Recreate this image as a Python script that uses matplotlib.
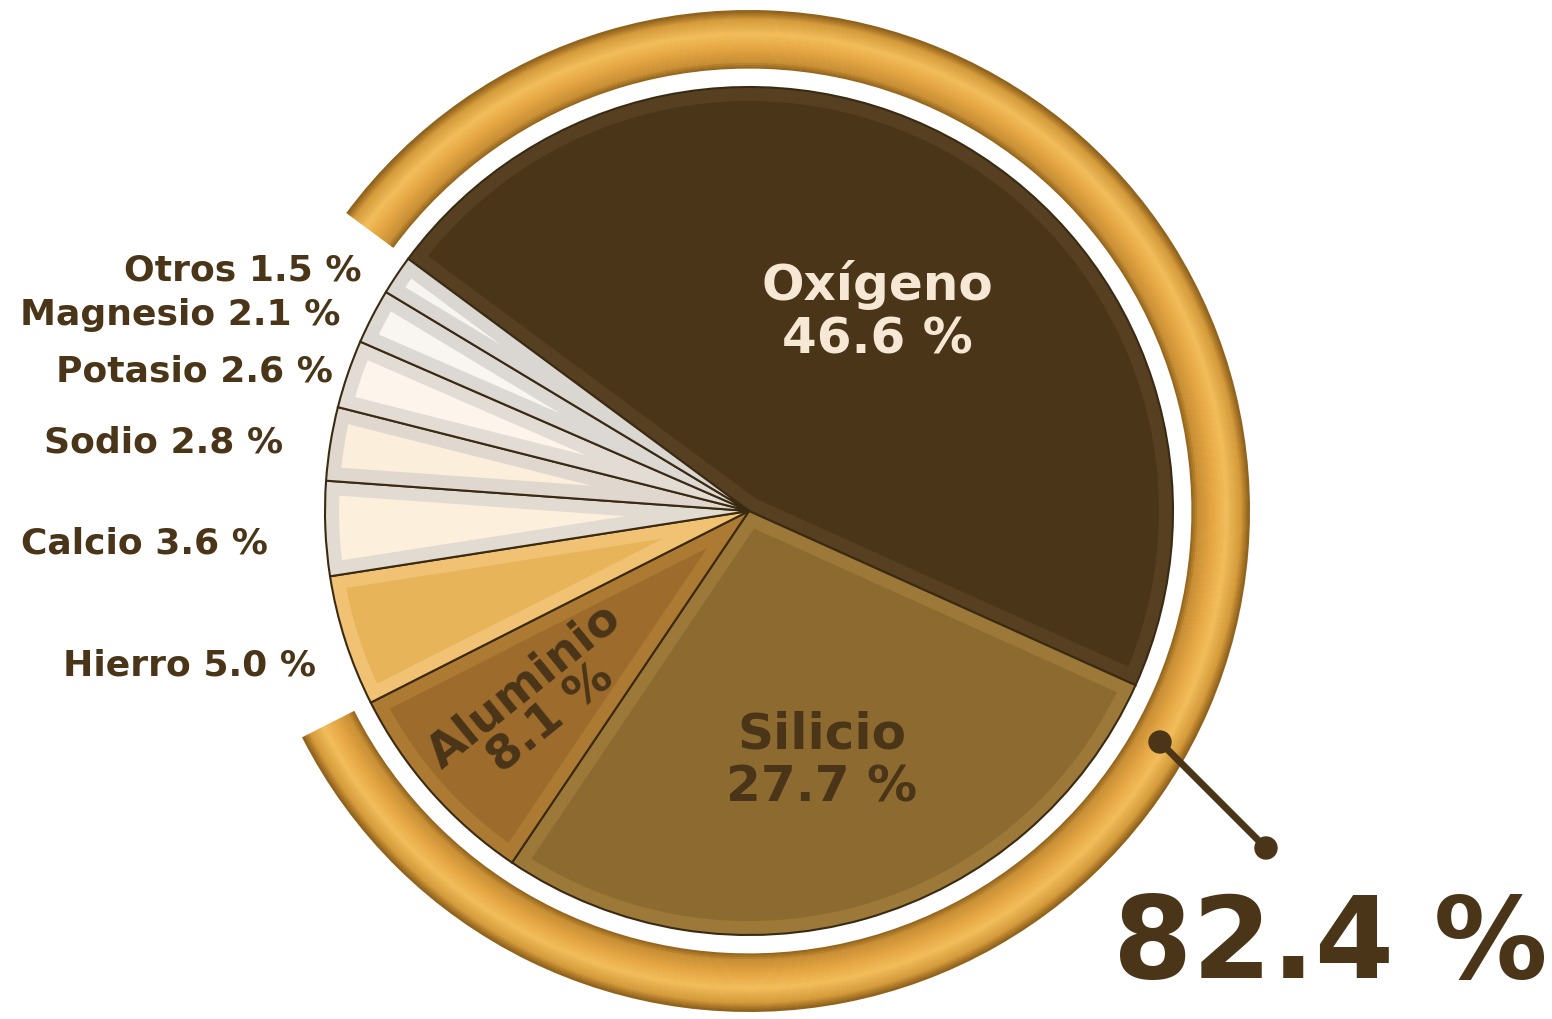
import numpy as np
import matplotlib.pyplot as plt
from matplotlib.patches import Wedge, Polygon, Circle
from matplotlib.colors import to_rgb

# elementos de la corteza terrestre (% en masa)
elements = ['Oxígeno', 'Silicio', 'Aluminio', 'Hierro', 'Calcio',
            'Sodio', 'Potasio', 'Magnesio', 'Otros']
values = [46.6, 27.7, 8.1, 5.0, 3.6, 2.8, 2.6, 2.1, 1.5]
highlight_count = 3  # Oxígeno + Silicio + Aluminio
highlight_label = '82.4 %'

face_colors = ['#4b3519', '#8c6a30', '#9d6b2b', '#e8b45a', '#fcefdc',
               '#fbeedb', '#fdf4ec', '#f9f6f2', '#f7f5f2']
bevel_colors = ['#574022', '#9c7839', '#ad7a34', '#f1c273', '#e2dbd2',
                '#e0d8ce', '#e2dcd5', '#dcd8d4', '#dad7d3']
dark = '#4a3518'

W, H = 1552, 1019
fig = plt.figure(figsize=(W / 100, H / 100), dpi=100)
ax = fig.add_axes([0, 0, 1, 1])

cx, cy, R = 749, 508, 424
start = 143.5

wedges, _ = ax.pie(values, colors=bevel_colors, startangle=start, counterclock=False,
                   radius=R, center=(cx, cy),
                   wedgeprops=dict(edgecolor='#3a2a12', linewidth=1.5))

# inset faces for the bevelled look
d = 14
for w, col in zip(wedges, face_colors):
    a1, a2 = w.theta1, w.theta2
    h = np.radians(a2 - a1) / 2
    m = np.radians(a1 + a2) / 2
    apex = d / np.sin(h)
    ri = R - d
    da = np.degrees(np.arcsin(d / ri))
    ang = np.radians(np.linspace(a1 + da, a2 - da, 80))
    pts = [(cx + apex * np.cos(m), cy + apex * np.sin(m))]
    pts += list(zip(cx + ri * np.cos(ang), cy + ri * np.sin(ang)))
    ax.add_patch(Polygon(pts, closed=True, facecolor=col, edgecolor='none', zorder=3))

# gold ring over the three main elements
ring_out, ring_in = 501, 443
a_end = start
a_begin = start - sum(values[:highlight_count]) * 3.6
profile = [(0.0, '#8f611b'), (0.12, '#c98f34'), (0.35, '#e4a542'),
           (0.6, '#f2bd5a'), (0.85, '#d49a3a'), (1.0, '#8a5c18')]
n = 30
pos = np.array([p for p, _ in profile])
cols = np.array([to_rgb(c) for _, c in profile])
for i in range(n):
    t = (i + 0.5) / n
    c = [np.interp(t, pos, cols[:, k]) for k in range(3)]
    r = ring_in + (ring_out - ring_in) * (i + 1) / n
    ax.add_patch(Wedge((cx, cy), r, a_begin, a_end,
                       width=(ring_out - ring_in) / n + 0.6,
                       facecolor=c, edgecolor='none', zorder=4))

# connector to the total
p1 = (1160, 1019 - 742)
p2 = (1266, 1019 - 848)
ax.plot([p1[0], p2[0]], [p1[1], p2[1]], color=dark, lw=5, zorder=6)
for p in (p1, p2):
    ax.add_patch(Circle(p, 11, color=dark, zorder=7))
ax.text(1330, 1019 - 946, highlight_label, fontsize=82, fontweight='bold',
        color=dark, ha='center', va='center', zorder=7)

# inner labels
ax.text(877, 1019 - 312, f'{elements[0]}\n{values[0]} %', fontsize=36, fontweight='bold',
        color='#f6e8d4', ha='center', va='center', linespacing=1.15, zorder=8)
ax.text(822, 1019 - 761, f'{elements[1]}\n{values[1]} %', fontsize=36, fontweight='bold',
        color=dark, ha='center', va='center', linespacing=1.15, zorder=8)
ax.text(538, 1019 - 702, f'{elements[2]}\n{values[2]} %', fontsize=34, fontweight='bold',
        color=dark, ha='center', va='center', linespacing=0.9, rotation=39,
        rotation_mode='anchor', zorder=8)

# outer labels, right-aligned
label_xy = [(316, 665), (268, 543), (283, 442), (333, 371), (340, 315), (362, 270)]
for (x, y), name, v in zip(label_xy, elements[3:], values[3:]):
    ax.text(x, 1019 - y, f'{name} {v} %', fontsize=26, fontweight='bold',
            color=dark, ha='right', va='center', zorder=8)

ax.set_xlim(0, W)
ax.set_ylim(0, H)
ax.set_aspect('equal')
ax.axis('off')
fig.savefig('out.png', dpi=100, facecolor='white')
